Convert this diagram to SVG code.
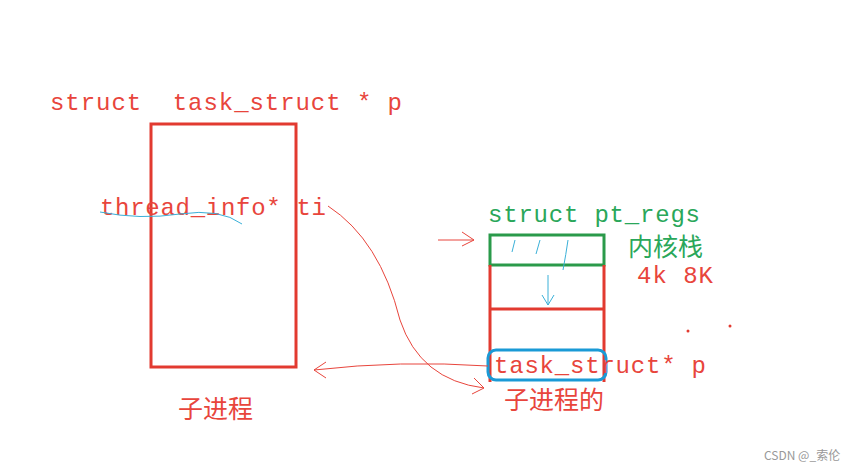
<svg xmlns="http://www.w3.org/2000/svg" width="860" height="471" viewBox="0 0 860 471">
<style>
.r{fill:#e8453c;font-family:"Liberation Mono","Noto Sans CJK SC",monospace;font-size:24px}
.g{fill:#2aa75a;font-family:"Liberation Mono","Noto Sans CJK SC",monospace;font-size:24px}
.c{font-family:"Noto Sans CJK SC",sans-serif;font-size:25px}
.thin{fill:none;stroke-width:1}
</style>
<rect width="860" height="471" fill="#fff"/>
<g id="parent">
<text class="r" x="50" y="110" xml:space="preserve" textLength="352">struct  task_struct * p</text>
<rect x="151" y="124" width="145" height="243" fill="none" stroke="#e23a30" stroke-width="3"/>
<text class="r" x="100" y="215" textLength="226">thread_info* ti</text>
<path class="thin" d="M100 212 Q140 220 180 214 T242 224" stroke="#3ab0d8"/>
<text class="r c" x="178" y="418">子进程</text>
</g>
<g id="stack">
<text class="g" x="488" y="222" textLength="212">struct pt_regs</text>
<rect x="490" y="235" width="114" height="30" fill="none" stroke="#2a9a4a" stroke-width="3"/>
<path d="M490 265 V382 M604 265 V382 M491 309 H604" fill="none" stroke="#e23a30" stroke-width="3"/>
<path class="thin" stroke="#3ab0d8" d="M515 240 l-3 12 M540 240 l-4 14 M568 240 q-2 14 -5 30"/>
<path class="thin" stroke="#3ab0d8" d="M548 275 v30 M542 295 l6 10 l6 -10"/>
<text class="g c" x="628" y="256" font-size="24">内核栈</text>
<text class="r" x="637" y="283" textLength="76">4k 8K</text>
<circle cx="688" cy="331" r="1.5" fill="#e23a30"/><circle cx="730" cy="326" r="1.5" fill="#e23a30"/>
<rect x="488" y="350" width="118" height="30" rx="8" fill="none" stroke="#1a9ad6" stroke-width="3"/>
<text class="r" x="494" y="373" textLength="212">task_struct* p</text>
<text class="r c" x="504" y="409">子进程的</text>
</g>
<g id="connectors" class="thin" stroke="#e8453c">
<path d="M438 240 H474 M462 232 L474 240 L462 246"/>
<path d="M488 366 Q400 360 314 370 M326 362 L314 370 L326 378"/>
<path d="M328 206 Q380 240 400 320 Q420 380 484 388 M474 378 L484 388 L472 394"/>
</g>
<text x="764" y="460" font-family="Noto Sans CJK SC,sans-serif" font-size="12" fill="#999">CSDN @_索伦</text>
</svg>
